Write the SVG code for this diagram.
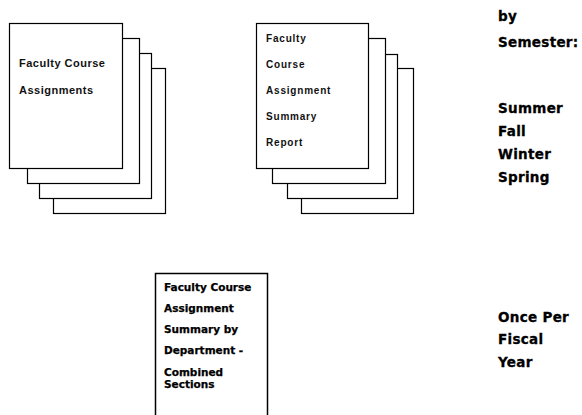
<svg xmlns="http://www.w3.org/2000/svg" width="582" height="415" viewBox="0 0 582 415">
<style>
.pg{fill:#fff;stroke:#000;stroke-width:1.2}
.t1{font-family:"Liberation Sans",Arial,sans-serif;font-weight:bold;font-size:11px;letter-spacing:0.5px;fill:#111}
.t2{font-family:"Liberation Sans",Arial,sans-serif;font-weight:bold;font-size:10px;letter-spacing:0.8px;fill:#111}
.t3{font-family:"DejaVu Sans",sans-serif;font-weight:bold;font-size:10.5px;fill:#000;stroke:#000;stroke-width:0.25}
.t4{font-family:"DejaVu Sans",sans-serif;font-weight:bold;font-size:13.5px;letter-spacing:0.3px;fill:#000;stroke:#000;stroke-width:0.3}
</style>
<rect width="582" height="415" fill="#fff"/>
<g id="connectors"/>
<g id="faculty-course-assignments">
<rect class="pg" x="53.5" y="68.5" width="112" height="145"/>
<rect class="pg" x="39.5" y="53.5" width="112" height="145"/>
<rect class="pg" x="27.5" y="38.5" width="112" height="145"/>
<rect class="pg" x="9.5" y="23.5" width="113" height="145"/>
<text class="t1" x="19" y="67">Faculty Course</text>
<text class="t1" x="19" y="94">Assignments</text>
</g>
<g id="summary-report">
<rect class="pg" x="301.5" y="68.5" width="112" height="145"/>
<rect class="pg" x="287.5" y="54.5" width="110" height="144"/>
<rect class="pg" x="272.5" y="38.5" width="113" height="145"/>
<rect class="pg" x="256.5" y="23.5" width="112" height="145"/>
<text class="t2" x="266" y="42">Faculty</text>
<text class="t2" x="266" y="68">Course</text>
<text class="t2" x="266" y="94">Assignment</text>
<text class="t2" x="266" y="120">Summary</text>
<text class="t2" x="266" y="146">Report</text>
</g>
<g id="summary-by-department">
<rect x="155.5" y="273.5" width="112" height="160" fill="#fff" stroke="#000" stroke-width="1.5"/>
<text class="t3" x="164" y="291">Faculty Course</text>
<text class="t3" x="164" y="312">Assignment</text>
<text class="t3" x="164" y="333">Summary by</text>
<text class="t3" x="164" y="354">Department -</text>
<text class="t3" x="164" y="376">Combined</text>
<text class="t3" x="164" y="388">Sections</text>
</g>
<g id="by-semester">
<text class="t4" x="498" y="21">by</text>
<text class="t4" x="498" y="47">Semester:</text>
<text class="t4" x="498" y="113">Summer</text>
<text class="t4" x="498" y="136">Fall</text>
<text class="t4" x="498" y="159">Winter</text>
<text class="t4" x="498" y="182">Spring</text>
</g>
<g id="once-per-fiscal-year">
<text class="t4" x="498" y="322">Once Per</text>
<text class="t4" x="498" y="344">Fiscal</text>
<text class="t4" x="498" y="367">Year</text>
</g>
</svg>
